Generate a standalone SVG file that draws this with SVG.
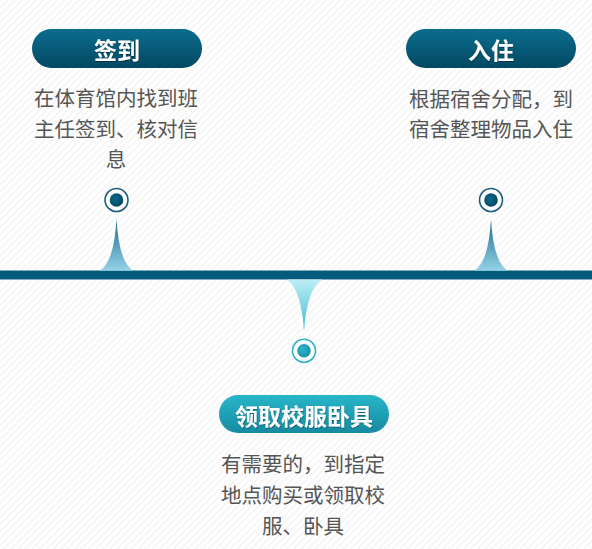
<svg xmlns="http://www.w3.org/2000/svg" width="592" height="549" viewBox="0 0 592 549">
<defs>
<pattern id="bg" width="5" height="5" patternUnits="userSpaceOnUse" patternTransform="rotate(45)">
<rect width="5" height="5" fill="#ffffff"/>
<rect width="1.5" height="5" fill="#f4f4f4"/>
</pattern>
<linearGradient id="pillDark" x1="0" y1="0" x2="0" y2="1">
<stop offset="0" stop-color="#0b6d8e"/>
<stop offset="1" stop-color="#034862"/>
</linearGradient>
<linearGradient id="pillLight" x1="0" y1="0" x2="0" y2="1">
<stop offset="0" stop-color="#28b5c8"/>
<stop offset="1" stop-color="#168aa1"/>
</linearGradient>
<linearGradient id="spikeUp" x1="0" y1="0" x2="0" y2="1">
<stop offset="0" stop-color="#1d6b8c"/>
<stop offset="1" stop-color="#93d2e8"/>
</linearGradient>
<linearGradient id="spikeDown" x1="0" y1="0" x2="0" y2="1">
<stop offset="0" stop-color="#bdeef6"/>
<stop offset="1" stop-color="#3fbcd3"/>
</linearGradient>
<radialGradient id="dotDark" cx="0.4" cy="0.4" r="0.7">
<stop offset="0" stop-color="#0b6a8c"/>
<stop offset="1" stop-color="#03455f"/>
</radialGradient>
<radialGradient id="dotLight" cx="0.4" cy="0.4" r="0.7">
<stop offset="0" stop-color="#2fb4c9"/>
<stop offset="1" stop-color="#158ea6"/>
</radialGradient>
<filter id="ts" x="-10%" y="-10%" width="120%" height="130%">
<feDropShadow dx="0.6" dy="0.8" stdDeviation="0.4" flood-color="#000" flood-opacity="0.45"/>
</filter>
</defs>
<style>
.title{font-family:"Noto Sans CJK SC","Noto Sans",sans-serif;font-size:23px;font-weight:bold;fill:#ffffff;text-anchor:middle;dominant-baseline:central}
.body{font-family:"Noto Sans CJK SC","Noto Sans",sans-serif;font-size:20.5px;fill:#555555;text-anchor:middle;dominant-baseline:central}
.ringDark{fill:#ffffff;stroke:#1b5e7a;stroke-width:1.6}
.ringLight{fill:#ffffff;stroke:#2ab3c9;stroke-width:1.6}
</style>
<rect width="592" height="549" fill="url(#bg)"/>

<g id="connectors">
<rect x="0" y="270.5" width="592" height="9" fill="#035b7c"/>
<path d="M116.5,219 Q119,262 133,270.5 L100,270.5 Q114,262 116.5,219 Z" fill="url(#spikeUp)"/>
<path d="M491,219 Q493.5,262 507.5,270.5 L474.5,270.5 Q488.5,262 491,219 Z" fill="url(#spikeUp)"/>
<path d="M287,279.5 L322,279.5 Q306.5,290 304,332 Q301.5,290 287,279.5 Z" fill="url(#spikeDown)"/>
</g>

<g id="node-signin">
<rect x="32" y="29" width="170" height="39" rx="19.5" fill="url(#pillDark)"/>
<text class="title" x="117" y="48.5" filter="url(#ts)">签到</text>
<text class="body" x="116" y="97">在体育馆内找到班</text>
<text class="body" x="116" y="127.5">主任签到、核对信</text>
<text class="body" x="116" y="158">息</text>
<circle class="ringDark" cx="116.5" cy="200" r="11.5"/>
<circle cx="116.5" cy="200" r="6.8" fill="url(#dotDark)"/>
</g>

<g id="node-checkin">
<rect x="406" y="29" width="170" height="39" rx="19.5" fill="url(#pillDark)"/>
<text class="title" x="491" y="48.5" filter="url(#ts)">入住</text>
<text class="body" x="491" y="97.5">根据宿舍分配，到</text>
<text class="body" x="491" y="127.5">宿舍整理物品入住</text>
<circle class="ringDark" cx="491" cy="200" r="11.5"/>
<circle cx="491" cy="200" r="6.8" fill="url(#dotDark)"/>
</g>

<g id="node-uniform">
<circle class="ringLight" cx="304" cy="350.7" r="11.5"/>
<circle cx="304" cy="350.7" r="6.8" fill="url(#dotLight)"/>
<rect x="219" y="395" width="170" height="38" rx="19" fill="url(#pillLight)"/>
<text class="title" x="304" y="414.5" filter="url(#ts)">领取校服卧具</text>
<text class="body" x="303" y="462.5">有需要的，到指定</text>
<text class="body" x="303" y="493.5">地点购买或领取校</text>
<text class="body" x="303" y="525">服、卧具</text>
</g>
</svg>
